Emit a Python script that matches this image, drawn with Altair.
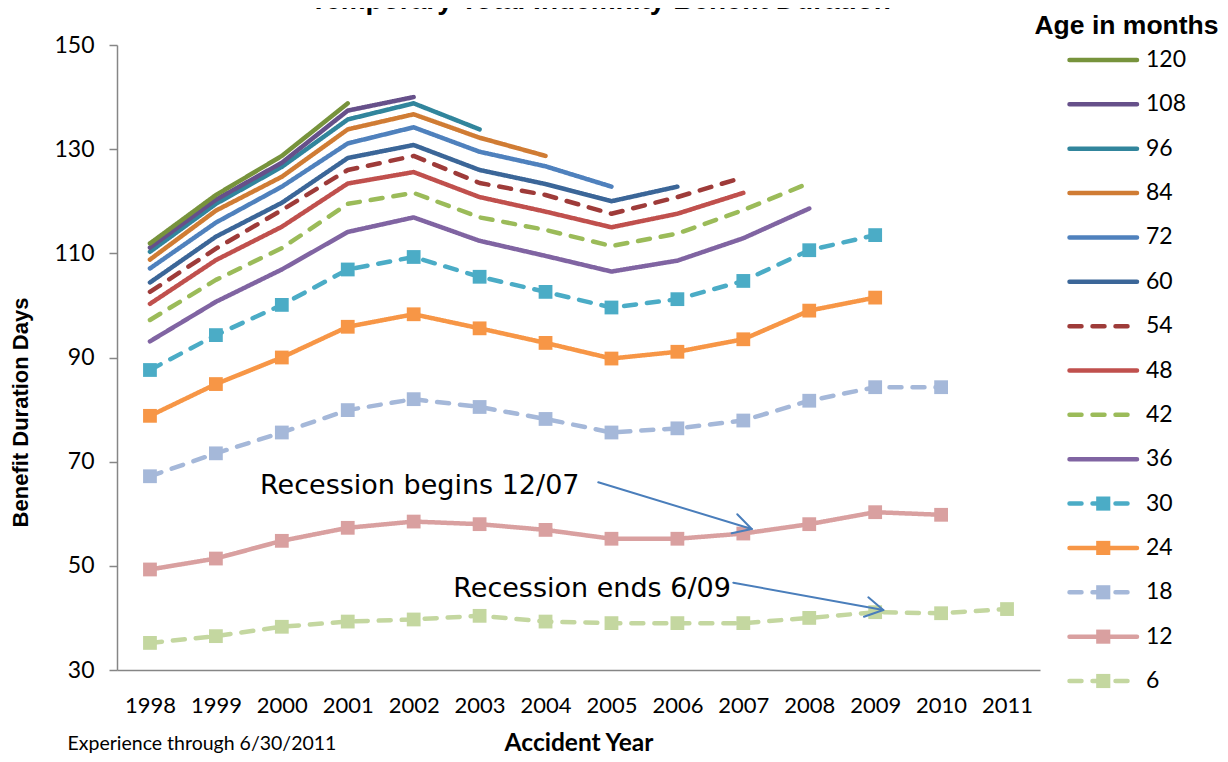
import altair as alt
import pandas as pd

# ---------------- data ----------------
years = list(range(1998, 2012))
series_order = ["120", "108", "96", "84", "72", "60", "54", "48", "42", "36", "30", "24", "18", "12", "6"]

v120 = [111.9, 121.2, 128.7, 138.8]
v108 = [111.1, 120.3, 127.4, 137.4, 140.0]
v96 = [110.3, 119.5, 126.6, 135.7, 138.8, 133.8]
v84 = [108.8, 118.2, 124.7, 133.8, 136.7, 132.2, 128.7]
v72 = [107.1, 115.9, 122.8, 131.1, 134.2, 129.5, 126.7, 122.8]
v60 = [104.4, 113.2, 119.7, 128.3, 130.8, 126.0, 123.3, 120.0, 122.8]
v54 = [102.6, 110.9, 118.3, 126.0, 128.7, 123.5, 121.2, 117.6, 120.8, 124.6]
v48 = [100.3, 108.7, 115.1, 123.4, 125.6, 120.8, 118.0, 115.0, 117.6, 121.6]
v42 = [97.2, 104.9, 111.0, 119.5, 121.6, 116.9, 114.5, 111.4, 113.8, 118.3, 123.5]
v36 = [93.1, 100.7, 106.9, 114.1, 116.9, 112.4, 109.5, 106.5, 108.6, 112.9, 118.6]
v30 = [87.6, 94.3, 100.1, 106.9, 109.3, 105.5, 102.6, 99.6, 101.2, 104.7, 110.6, 113.5]
v24 = [78.8, 84.9, 90.0, 95.9, 98.3, 95.6, 92.8, 89.8, 91.1, 93.5, 99.0, 101.5]
v18 = [67.2, 71.6, 75.6, 79.9, 82.0, 80.5, 78.2, 75.6, 76.4, 77.9, 81.7, 84.3, 84.3]
v12 = [49.3, 51.4, 54.8, 57.3, 58.5, 58.0, 56.9, 55.2, 55.2, 56.2, 58.0, 60.3, 59.8]
v6 = [35.2, 36.5, 38.3, 39.3, 39.7, 40.4, 39.3, 39.0, 39.0, 39.0, 40.0, 41.1, 40.9, 41.7]

series_values = {
    "120": v120, "108": v108, "96": v96, "84": v84, "72": v72, "60": v60,
    "54": v54, "48": v48, "42": v42, "36": v36, "30": v30, "24": v24,
    "18": v18, "12": v12, "6": v6,
}
marker_series = ["30", "24", "18", "12", "6"]

colors = ["#77933C", "#66508A", "#31859C", "#D07C34", "#4F81BD", "#3B6698", "#9E3B39",
          "#C0504D", "#9BBB59", "#8064A2", "#4BACC6", "#F79646", "#A5B8D9", "#D9A0A0", "#C4D7A0"]
DASH = [12, 11]
SOLID = [1, 0]
dashes = [SOLID, SOLID, SOLID, SOLID, SOLID, SOLID, DASH, SOLID, DASH, SOLID, DASH, SOLID, DASH, SOLID, DASH]

# annotations
note_text = ["Recession begins 12/07", "Recession ends 6/09"]
note_x = [1999.67, 2002.60]
note_y = [63.8, 44.0]

arrow_x = [2004.80, 2007.127, 2007.127, 2006.848, 2009.123, 2009.123]
arrow_y = [66.04, 57.07, 57.07, 46.76, 41.52, 41.52]
arrow_x2 = [2007.127, 2006.908, 2006.823, 2009.123, 2008.896, 2008.830]
arrow_y2 = [57.07, 59.90, 56.25, 41.52, 43.96, 40.23]

# ---------------- tables ----------------
rows = []
for s in reversed(series_order):
    for i, v in enumerate(series_values[s]):
        rows.append({"series": s, "year": years[i], "value": v})
df = pd.DataFrame(rows)
df_pts = df[df["series"].isin(marker_series)]

df_notes = pd.DataFrame({"text": note_text, "x": note_x, "y": note_y})
df_arrows = pd.DataFrame({"x": arrow_x, "y": arrow_y, "x2": arrow_x2, "y2": arrow_y2})

leg_rows = []
for s in reversed(series_order):
    leg_rows.append({"series": s, "pos": 0.0})
    leg_rows.append({"series": s, "pos": 1.0})
df_leg = pd.DataFrame(leg_rows)
df_leg_pts = pd.DataFrame({"series": marker_series, "pos": [0.5] * len(marker_series)})
df_leg_lab = pd.DataFrame({"series": series_order, "pos": [1.0] * len(series_order)})

# ---------------- scales ----------------
GRAY = "#868686"
color_scale = alt.Scale(domain=series_order, range=colors)
dash_scale = alt.Scale(domain=series_order, range=dashes)

x_enc = alt.X(
    "year:Q",
    scale=alt.Scale(domain=[1997.5, 2011.5], nice=False, zero=False),
    axis=alt.Axis(
        values=years, format="d", ticks=False, grid=False,
        domainColor=GRAY, domainWidth=1.5,
        labelFont="Lato", labelFontSize=22, labelColor="black", labelPadding=25,
        labelFlush=False, labelOverlap=False,
        title="Accident Year", titleFont="Lato", titleFontWeight="bold", titleFontSize=24.5,
        titleColor="black", titleBaseline="alphabetic", titleY=80,
    ),
)
y_enc = alt.Y(
    "value:Q",
    scale=alt.Scale(domain=[30, 150], nice=False, zero=False),
    axis=alt.Axis(
        values=[30, 50, 70, 90, 110, 130, 150], grid=False,
        domainColor=GRAY, domainWidth=1.5, tickColor=GRAY, tickWidth=1.5, tickSize=8,
        labelFont="Lato", labelFontSize=23, labelColor="black", labelPadding=15,
        title="Benefit Duration Days", titleFont="Liberation Sans", titleFontWeight="bold",
        titleFontSize=22, titleColor="black", titleAngle=270, titleBaseline="alphabetic",
        titleAlign="center", titleX=-90, titleY=367,
    ),
)

lines = alt.Chart(df).mark_line(strokeWidth=4.5, strokeCap="round", strokeJoin="round").encode(
    x=x_enc, y=y_enc,
    color=alt.Color("series:N", scale=color_scale, legend=None),
    strokeDash=alt.StrokeDash("series:N", scale=dash_scale, legend=None),
)
points = alt.Chart(df_pts).mark_square(size=190, opacity=1).encode(
    x="year:Q", y="value:Q",
    color=alt.Color("series:N", scale=color_scale, legend=None),
)
notes = alt.Chart(df_notes).mark_text(
    font="DejaVu Sans", fontSize=27, align="left", baseline="alphabetic", color="black"
).encode(x="x:Q", y="y:Q", text="text:N")
arrows = alt.Chart(df_arrows).mark_rule(color="#4A7EBB", strokeWidth=2, strokeCap="round").encode(
    x="x:Q", y="y:Q", x2="x2:Q", y2="y2:Q"
)
main = alt.layer(lines, points, notes, arrows)

# ---------------- custom legend ----------------
lx = alt.X(
    "pos:Q",
    scale=alt.Scale(domain=[0, 1], range=[952.5, 1020], nice=False, zero=False),
    axis=alt.Axis(
        orient="bottom", labels=False, ticks=False, domain=False, grid=False,
        title="Experience through 6/30/2011", titleFont="Lato", titleFontSize=19.5,
        titleFontWeight="normal", titleColor="black", titleAlign="left",
        titleBaseline="alphabetic", titleX=-50, titleY=79,
    ),
)
ly = alt.Y(
    "series:N",
    scale=alt.Scale(type="point", domain=series_order, range=[15, 636], padding=0),
    axis=alt.Axis(
        orient="right", labels=False, ticks=False, domain=False, grid=False,
        title="Age in months", titleFont="Liberation Sans", titleFontWeight="bold",
        titleFontSize=26.5, titleColor="black", titleAngle=0, titleAlign="center",
        titleBaseline="alphabetic", titleX=86, titleY=-12,
    ),
)
leg_lines = alt.Chart(df_leg).mark_line(strokeWidth=4.5, strokeCap="round").encode(
    x=lx, y=ly,
    color=alt.Color("series:N", scale=color_scale, legend=None),
    strokeDash=alt.StrokeDash("series:N", scale=dash_scale, legend=None),
)
leg_pts = alt.Chart(df_leg_pts).mark_square(size=200, opacity=1).encode(
    x="pos:Q", y="series:N",
    color=alt.Color("series:N", scale=color_scale, legend=None),
)
leg_lab = alt.Chart(df_leg_lab).mark_text(
    font="Lato", fontSize=23, align="left", baseline="middle", dx=9, color="black"
).encode(x="pos:Q", y="series:N", text="series:N")
legend = alt.layer(leg_lines, leg_pts, leg_lab)

chart = alt.layer(main, legend).resolve_scale(x="independent", y="independent").properties(
    width=923,
    height=625,
    padding={"left": 109, "top": 37, "right": 180, "bottom": 84},
    autosize=alt.AutoSizeParams(type="none"),
    background="white",
    title=alt.TitleParams(
        text="Temporary Total Indemnity Benefit Duration", font="Liberation Sans",
        fontWeight="bold", fontSize=28, color="black", anchor="middle", frame="group",
        baseline="alphabetic", offset=-25, dx=22,
    ),
).configure_view(stroke=None)

chart.save("out.html", embed_options={"renderer": "svg", "actions": False})
